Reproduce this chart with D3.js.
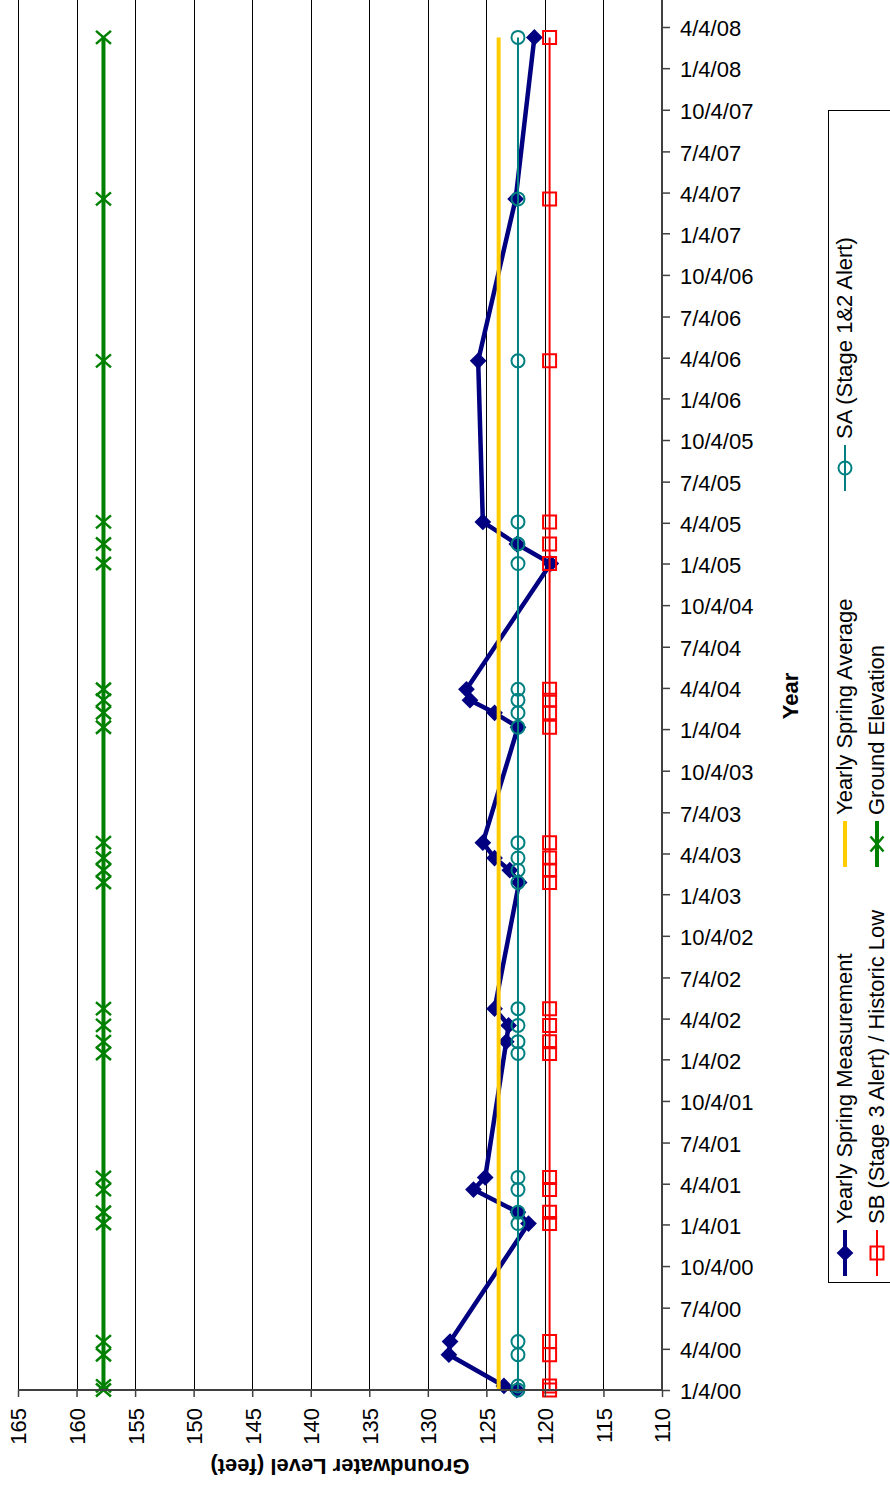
<!DOCTYPE html>
<html>
<head>
<meta charset="utf-8">
<script src="https://cdn.jsdelivr.net/npm/d3@7/dist/d3.min.js"></script>
<style>
  html, body { margin: 0; padding: 0; background: #fff; }
  svg { display: block; font-family: "Liberation Sans", Arial, sans-serif; }
</style>
</head>
<body>
<svg id="chart" width="890" height="1489"></svg>
<script>
// ---------------- DATA ----------------
const measDates = [
  "2000-01-04","2000-01-13","2000-03-22","2000-04-20",
  "2001-01-06","2001-01-31","2001-03-22","2001-04-18",
  "2002-01-17","2002-02-12","2002-03-20","2002-04-26",
  "2003-01-30","2003-02-26","2003-03-25","2003-04-28",
  "2004-01-08","2004-02-09","2004-03-08","2004-04-01",
  "2005-01-04","2005-02-16","2005-04-06",
  "2006-03-28","2007-03-21","2008-03-12"
];
const springMeasurement = [
  122.4, 123.5, 128.2, 128.1,
  121.4, 122.3, 126.1, 125.1,
  null, 123.3, 123.1, 124.3,
  122.2, 123.0, 124.3, 125.3,
  122.3, 124.3, 126.4, 126.7,
  119.5, 122.4, 125.3,
  125.7, 122.5, 120.9
];
const springAverage = [
  123.95, 123.95, 123.95, 123.95, 123.95, 123.95, 123.95, 123.95, 123.95,
  123.95, 123.95, 123.95, 123.95, 123.95, 123.95, 123.95, 123.95, 123.95,
  123.95, 123.95, 123.95, 123.95, 123.95, 123.95, 123.95, 123.95
];
const saAlert = [
  122.3, 122.3, 122.3, 122.3, 122.3, 122.3, 122.3, 122.3, 122.3,
  122.3, 122.3, 122.3, 122.3, 122.3, 122.3, 122.3, 122.3, 122.3,
  122.3, 122.3, 122.3, 122.3, 122.3, 122.3, 122.3, 122.3
];
const sbAlert = [
  119.6, 119.6, 119.6, 119.6, 119.6, 119.6, 119.6, 119.6, 119.6,
  119.6, 119.6, 119.6, 119.6, 119.6, 119.6, 119.6, 119.6, 119.6,
  119.6, 119.6, 119.6, 119.6, 119.6, 119.6, 119.6, 119.6
];
const groundElevation = [
  157.7, 157.7, 157.7, 157.7, 157.7, 157.7, 157.7, 157.7, 157.7,
  157.7, 157.7, 157.7, 157.7, 157.7, 157.7, 157.7, 157.7, 157.7,
  157.7, 157.7, 157.7, 157.7, 157.7, 157.7, 157.7, 157.7
];
const levelTicks = [165, 160, 155, 150, 145, 140, 135, 130, 125, 120, 115, 110];
const dateTickLabels = [
  "1/4/00","4/4/00","7/4/00","10/4/00",
  "1/4/01","4/4/01","7/4/01","10/4/01",
  "1/4/02","4/4/02","7/4/02","10/4/02",
  "1/4/03","4/4/03","7/4/03","10/4/03",
  "1/4/04","4/4/04","7/4/04","10/4/04",
  "1/4/05","4/4/05","7/4/05","10/4/05",
  "1/4/06","4/4/06","7/4/06","10/4/06",
  "1/4/07","4/4/07","7/4/07","10/4/07",
  "1/4/08","4/4/08"
];
const seriesNames = [
  "Yearly Spring Measurement",
  "Yearly Spring Average",
  "SA (Stage 1&2 Alert)",
  "SB (Stage 3 Alert) / Historic Low",
  "Ground Elevation"
];

// ---------------- SETUP ----------------
const svg = d3.select("#chart");
svg.append("rect").attr("width", 890).attr("height", 1489).attr("fill", "#fff");

const parseISO = d3.utcParse("%Y-%m-%d");
const parseTick = d3.utcParse("%m/%d/%y");
const dates = measDates.map(parseISO);
const tickDates = dateTickLabels.map(parseTick);

const plotLeft = 18, plotRight = 662, plotBottom = 1390, plotTop = -10;

const x = d3.scaleLinear().domain([165, 110]).range([plotLeft, plotRight]);
const y = d3.scaleUtc().domain([tickDates[0], tickDates[tickDates.length - 1]]).range([plotBottom, 27]);

const FONT = "Liberation Sans, Arial, sans-serif";

// gridlines
svg.append("g").selectAll("line").data(levelTicks).join("line")
  .attr("x1", d => Math.round(x(d)) + 0.5).attr("x2", d => Math.round(x(d)) + 0.5)
  .attr("y1", plotTop).attr("y2", plotBottom)
  .attr("stroke", "#000").attr("stroke-width", 1);

// ---------------- SERIES ----------------
const line = d3.line().x(d => x(d.v)).y(d => y(d.date));
const mk = arr => arr.map((v, i) => ({ date: dates[i], v })).filter(d => d.v != null);

const blue = "#000080", yellow = "#FFCC00", teal = "#008080", red = "#FF0000", green = "#008000";

const diamond = d3.symbol(d3.symbolSquare, 140)();
const square = d3.symbol(d3.symbolSquare, 169)();
const xMark = "M-7.5,-6.5L7.5,6.5M-7.5,6.5L7.5,-6.5";

// Yearly Spring Measurement
const gBlue = svg.append("g");
gBlue.append("path").attr("d", line(mk(springMeasurement)))
  .attr("fill", "none").attr("stroke", blue).attr("stroke-width", 4.5).attr("stroke-linejoin", "round");
gBlue.selectAll("path.m").data(mk(springMeasurement)).join("path").attr("class", "m")
  .attr("d", diamond)
  .attr("transform", d => `translate(${x(d.v)},${y(d.date)}) rotate(45)`)
  .attr("fill", blue);

// Yearly Spring Average
svg.append("path").attr("d", line(mk(springAverage)))
  .attr("fill", "none").attr("stroke", yellow).attr("stroke-width", 4);

// SA
const gSA = svg.append("g");
gSA.append("path").attr("d", line(mk(saAlert)))
  .attr("fill", "none").attr("stroke", teal).attr("stroke-width", 2);
gSA.selectAll("circle").data(mk(saAlert)).join("circle")
  .attr("cx", d => x(d.v)).attr("cy", d => y(d.date)).attr("r", 6.5)
  .attr("fill", "none").attr("stroke", teal).attr("stroke-width", 2);

// SB
const gSB = svg.append("g");
gSB.append("path").attr("d", line(mk(sbAlert)))
  .attr("fill", "none").attr("stroke", red).attr("stroke-width", 2);
gSB.selectAll("path.m").data(mk(sbAlert)).join("path").attr("class", "m")
  .attr("d", square)
  .attr("transform", d => `translate(${x(d.v)},${y(d.date)})`)
  .attr("fill", "none").attr("stroke", red).attr("stroke-width", 2);

// Ground Elevation
const gG = svg.append("g");
gG.append("path").attr("d", line(mk(groundElevation)))
  .attr("fill", "none").attr("stroke", green).attr("stroke-width", 4);
gG.selectAll("path.m").data(mk(groundElevation)).join("path").attr("class", "m")
  .attr("d", xMark)
  .attr("transform", d => `translate(${x(d.v)},${y(d.date)})`)
  .attr("fill", "none").attr("stroke", green).attr("stroke-width", 2.5);

// ---------------- AXES ----------------
const axisColor = "#404040";

// value axis (bottom)
const xAxis = d3.axisBottom(x).tickValues(levelTicks).tickSize(7).tickSizeOuter(0);
const gx = svg.append("g").attr("transform", `translate(0,${plotBottom})`).call(xAxis);
gx.select(".domain").remove();
gx.selectAll(".tick line").attr("stroke", axisColor).attr("stroke-width", 1.5);
gx.selectAll(".tick text")
  .attr("transform", "rotate(-90)")
  .attr("x", -18).attr("y", 0).attr("dy", "0.36em")
  .attr("text-anchor", "end")
  .attr("fill", "#000")
  .style("font-size", "22px").style("font-family", FONT);
svg.append("line").attr("x1", plotLeft).attr("x2", plotRight + 1)
  .attr("y1", plotBottom).attr("y2", plotBottom)
  .attr("stroke", axisColor).attr("stroke-width", 2);

// date axis (right)
const yAxis = d3.axisRight(y).tickValues(tickDates)
  .tickFormat((d, i) => dateTickLabels[i]).tickSize(8).tickPadding(10).tickSizeOuter(0);
const gy = svg.append("g").attr("transform", `translate(${plotRight},0)`).call(yAxis);
gy.select(".domain").remove();
gy.selectAll(".tick line").attr("stroke", axisColor).attr("stroke-width", 1.5);
gy.selectAll(".tick text")
  .attr("dy", "0.4em")
  .attr("fill", "#000")
  .style("font-size", "22px").style("font-family", FONT);
svg.append("line").attr("x1", plotRight).attr("x2", plotRight)
  .attr("y1", plotTop).attr("y2", plotBottom + 1)
  .attr("stroke", axisColor).attr("stroke-width", 2);

// axis titles
svg.append("text")
  .attr("transform", `translate(340,1467) rotate(180)`)
  .attr("text-anchor", "middle").attr("dy", "0.36em")
  .style("font-size", "22px").style("font-weight", "bold").style("font-family", FONT)
  .text("Groundwater Level (feet)");
svg.append("text")
  .attr("transform", `translate(790,696) rotate(-90)`)
  .attr("text-anchor", "middle").attr("dy", "0.36em")
  .style("font-size", "22px").style("font-weight", "bold").style("font-family", FONT)
  .text("Year");

// ---------------- LEGEND ----------------
const lg = svg.append("g");
lg.append("rect").attr("x", 828.5).attr("y", 110.5).attr("width", 100).attr("height", 1172)
  .attr("fill", "#fff").attr("stroke", "#000").attr("stroke-width", 1);

const legendItems = [
  { name: seriesNames[0], cx: 845, bottom: 1276, color: blue, w: 4, marker: "diamond" },
  { name: seriesNames[1], cx: 845, bottom: 867, color: yellow, w: 4, marker: null },
  { name: seriesNames[2], cx: 845, bottom: 491, color: teal, w: 2, marker: "circle" },
  { name: seriesNames[3], cx: 877, bottom: 1276, color: red, w: 2, marker: "square" },
  { name: seriesNames[4], cx: 877, bottom: 867, color: green, w: 4, marker: "x" }
];
const symLen = 46;
legendItems.forEach(it => {
  const g = lg.append("g");
  const mid = it.bottom - symLen / 2;
  g.append("line").attr("x1", it.cx).attr("x2", it.cx)
    .attr("y1", it.bottom).attr("y2", it.bottom - symLen)
    .attr("stroke", it.color).attr("stroke-width", it.w);
  if (it.marker === "diamond") {
    g.append("path").attr("d", diamond).attr("transform", `translate(${it.cx},${mid}) rotate(45)`).attr("fill", it.color);
  } else if (it.marker === "circle") {
    g.append("circle").attr("cx", it.cx).attr("cy", mid).attr("r", 6.5)
      .attr("fill", "none").attr("stroke", it.color).attr("stroke-width", 2);
  } else if (it.marker === "square") {
    g.append("path").attr("d", square).attr("transform", `translate(${it.cx},${mid})`)
      .attr("fill", "none").attr("stroke", it.color).attr("stroke-width", 2);
  } else if (it.marker === "x") {
    g.append("path").attr("d", xMark).attr("transform", `translate(${it.cx},${mid}) rotate(90)`)
      .attr("fill", "none").attr("stroke", it.color).attr("stroke-width", 2.5);
  }
  g.append("text")
    .attr("transform", `translate(${it.cx},${it.bottom - symLen - 6}) rotate(-90)`)
    .attr("text-anchor", "start").attr("dy", "0.34em")
    .style("font-size", "22px").style("font-family", FONT)
    .text(it.name);
});
</script>
</body>
</html>
